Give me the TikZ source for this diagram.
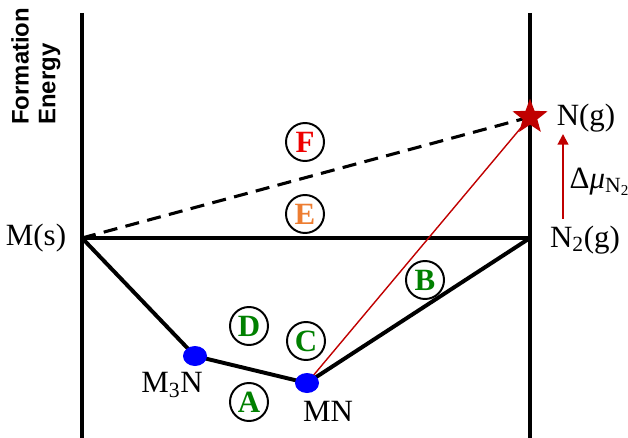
\documentclass[tikz,border=0pt]{standalone}
\usepackage{fontspec}
\setmainfont{Liberation Serif}
\newfontfamily\headfont{Liberation Sans}
\usepackage{tikz}
\usetikzlibrary{arrows.meta,shapes.geometric}

\definecolor{gasred}{HTML}{C00000}
\definecolor{lblred}{HTML}{EE0000}
\definecolor{lblorange}{HTML}{ED7D31}
\definecolor{lblgreen}{HTML}{008000}

\begin{document}
\begin{tikzpicture}[
  x=0.025cm,y=-0.025cm,
  lbl/.style={font=\fontsize{22}{24}\selectfont,inner sep=1pt},
  circ/.style={draw,circle,line width=1.4pt,minimum size=0.95cm,inner sep=0pt,
    font=\fontsize{22}{24}\selectfont\bfseries},
  phase/.style={line width=2.8pt},
  dot/.style={ellipse,fill=blue,minimum width=0.6cm,minimum height=0.5cm,inner sep=0pt},
  arr/.style={-{Triangle[length=7.5pt,width=7.5pt]},line width=1.5pt,gasred}
]
\useasboundingbox (0,0) rectangle (628,438);

% axes
\coordinate (topL) at (82,13);
\coordinate (botL) at (82,438);
\coordinate (topR) at (530,13);
\coordinate (botR) at (530,438);
\draw[line width=2.2pt] (topL) -- (botL);
\draw[line width=2.2pt] (topR) -- (botR);
\node[rotate=90,anchor=north west,align=left,inner sep=0pt,
  font=\headfont\bfseries\fontsize{17}{19}\selectfont] (axis) at (11,125) {Formation\\Energy};

% end points
\coordinate (Ms) at (82,238);
\coordinate (N2) at (530,238);
\coordinate (Ng) at (530,117);
\coordinate (pM3N) at (195,356);
\coordinate (pMN) at (307,383);

% tie lines
\draw[line width=2.2pt] (Ms) -- (N2);
\draw[line width=2.2pt,dash pattern=on 10pt off 6pt] (Ms) -- (Ng);
\draw[phase,line join=round] (Ms) -- (pM3N) -- (pMN) -- (N2);
\draw[gasred,line width=1pt] (pMN) -- (Ng);

% phases
\node[dot] (m3n) at (pM3N) {};
\node[dot] (mn) at (pMN) {};
\node[star,star points=5,star point ratio=2.4,fill=gasred,minimum size=0.92cm,inner sep=0pt] (star) at (Ng) {};

% labels
\node[lbl] (lms) at (36,238) {M(s)};
\node[lbl] (ln2) at (585,240) {N\textsubscript{2}(g)};
\node[lbl] (lng) at (586,118) {N(g)};
\node[lbl] (lm3n) at (172,385) {M\textsubscript{3}N};
\node[lbl] (lmn) at (328,411) {MN};
\coordinate (arrbot) at (563,219);
\coordinate (arrtop) at (563,134);
\draw[arr] (arrbot) -- (arrtop);
\node[lbl,anchor=west] (lmu) at (568,182) {Δ\textit{μ}\textsubscript{N\textsubscript{2}}};

% regions
\node[circ,text=lblred] (F) at (305,142) {F};
\node[circ,text=lblorange] (E) at (305,214) {E};
\node[circ,text=lblgreen] (D) at (249,326) {D};
\node[circ,text=lblgreen] (C) at (306,341) {C};
\node[circ,text=lblgreen] (B) at (425,280) {B};
\node[circ,text=lblgreen] (A) at (249,402) {A};
\end{tikzpicture}
\end{document}
